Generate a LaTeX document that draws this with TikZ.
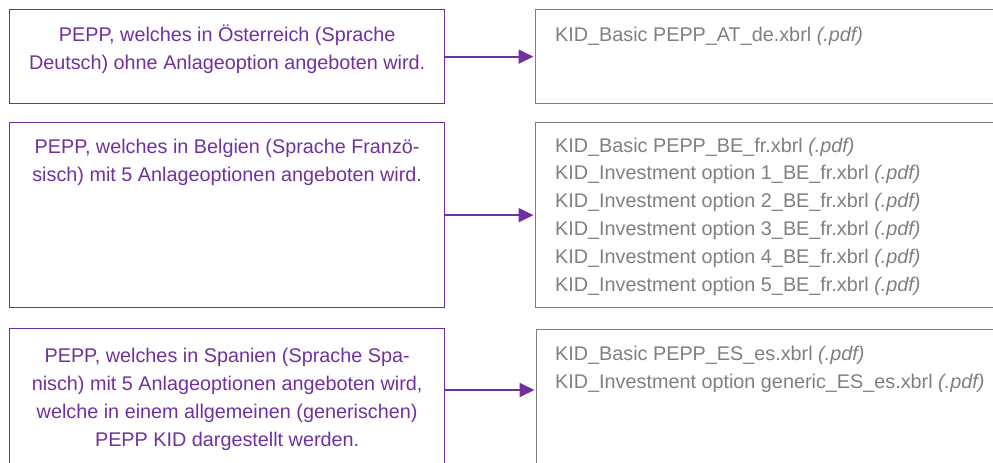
\documentclass[tikz,border=0pt]{standalone}
\usepackage{fontspec}
\setmainfont{Liberation Sans}
\usetikzlibrary{arrows.meta}
\definecolor{PEPPpurple}{RGB}{112,48,160}
\definecolor{KIDgrey}{RGB}{127,127,127}

\begin{document}
\begin{tikzpicture}[x=1pt, y=1pt,
	leftbox/.style={draw=PEPPpurple, line width=1.3pt, anchor=north west, minimum width=435pt, inner sep=0},
	rightbox/.style={draw=KIDgrey, line width=1.3pt, anchor=north west, minimum width=500pt, inner sep=0},
	lefttext/.style={anchor=north, align=center, text=PEPPpurple, inner sep=0},
	righttext/.style={anchor=north west, align=left, text=KIDgrey, inner sep=0, font=\fontsize{19.8}{27.8}\selectfont},
	link/.style={-{Triangle[length=15pt, width=14pt]}, line width=1.8pt, PEPPpurple, shorten >=1.5pt},
	every node/.style={font=\fontsize{19.8}{28}\selectfont}
	]
	\useasboundingbox (0,0) rectangle (993,-463);
	\clip (0,0) rectangle (993,-463);

	% Oesterreich
	\node (boxAT) at (9,-9) [leftbox, minimum height=94pt] {};
	\node (txtAT) at ([yshift=-16pt]boxAT.north) [lefttext] {PEPP, welches in Österreich (Sprache\\Deutsch) ohne Anlageoption angeboten wird.};
	\node (resAT) at (535,-9) [rightbox, minimum height=94pt] {};
	\node (lstAT) at ([xshift=20pt, yshift=-17.5pt]resAT.north west) [righttext] {KID\_Basic PEPP\_AT\_de.xbrl \textit{(.pdf)}};
	\draw [link] (boxAT.east) -- (resAT.west);

	% Belgien
	\node (boxBE) at (9,-122) [leftbox, minimum height=185pt] {};
	\node (txtBE) at ([yshift=-16.5pt]boxBE.north) [lefttext] {PEPP, welches in Belgien (Sprache Franzö-\\sisch) mit 5 Anlageoptionen angeboten wird.};
	\node (resBE) at (535,-122) [rightbox, minimum height=185pt] {};
	\node (lstBE) at ([xshift=20pt, yshift=-15.5pt]resBE.north west) [righttext] {KID\_Basic PEPP\_BE\_fr.xbrl \textit{(.pdf)}\\
		KID\_Investment option 1\_BE\_fr.xbrl \textit{(.pdf)}\\
		KID\_Investment option 2\_BE\_fr.xbrl \textit{(.pdf)}\\
		KID\_Investment option 3\_BE\_fr.xbrl \textit{(.pdf)}\\
		KID\_Investment option 4\_BE\_fr.xbrl \textit{(.pdf)}\\
		KID\_Investment option 5\_BE\_fr.xbrl \textit{(.pdf)}};
	\draw [link] (boxBE.east) -- (resBE.west);

	% Spanien
	\node (boxES) at (9,-328) [leftbox, minimum height=170pt] {};
	\node (txtES) at ([yshift=-20pt]boxES.north) [lefttext] {PEPP, welches in Spanien (Sprache Spa-\\nisch) mit 5 Anlageoptionen angeboten wird,\\welche in einem allgemeinen (generischen)\\PEPP KID dargestellt werden.};
	\node (resES) at (536,-329) [rightbox, minimum height=170pt] {};
	\node (lstES) at ([xshift=19pt, yshift=-17pt]resES.north west) [righttext] {KID\_Basic PEPP\_ES\_es.xbrl \textit{(.pdf)}\\
		KID\_Investment option generic\_ES\_es.xbrl \textit{(.pdf)}};
	\draw [link] ([yshift=-62pt]boxES.north east) -- ([yshift=-61pt]resES.north west);
\end{tikzpicture}
\end{document}
